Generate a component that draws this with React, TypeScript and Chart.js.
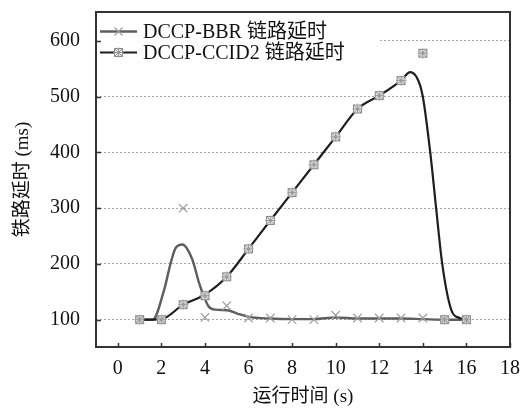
import React, { useEffect, useRef } from "react";
import { Chart, registerables } from "chart.js";

Chart.register(...registerables);

// ---- data ----
const markerTimes = [1, 2, 3, 4, 5, 6, 7, 8, 9, 10, 11, 12, 13, 14, 15, 16];
const bbrDelay = [100, 100, 300, 104, 125, 103, 103, 100, 100, 108, 103, 103, 103, 103, 100, 100];
const ccidDelay = [100, 100, 127, 143, 177, 227, 278, 328, 378, 428, 478, 502, 529, 578, 100, 100];

const bbrCurveTimes = [1, 1.6, 2.13, 2.43, 2.66, 2.97, 3.42, 3.73, 3.95, 4.18, 4.49, 5.02, 5.48, 6.01, 7, 8, 9, 10, 11, 12, 13, 14, 15, 16];
const bbrCurveDelay = [100, 100, 154, 202, 229, 235, 208, 166, 142, 123, 118, 117, 111, 105, 102, 101, 101, 104, 102, 102, 102, 101, 100, 100];

const ccidCurveTimes = [1, 2, 3, 4, 5, 6, 7, 8, 9, 10, 11, 12, 13, 13.42, 13.77, 14.0, 14.34, 14.61, 14.89, 15.3, 15.68, 16];
const ccidCurveDelay = [100, 101, 127, 145, 177, 227, 278, 328, 378, 428, 478, 502, 529, 544, 531, 500, 400, 300, 200, 118, 103, 100];

const xTicks = [0, 2, 4, 6, 8, 10, 12, 14, 16, 18];
const yTicks = [100, 200, 300, 400, 500, 600];
const legendLabels = ["DCCP-BBR 链路延时", "DCCP-CCID2 链路延时"];
const xTitle = "运行时间 (s)";
const yTitle = "铁路延时 (ms)";

const FONT = "'Liberation Serif', 'Noto Sans CJK SC', serif";
const BBR_LINE = "#5e5e5e";
const CCID_LINE = "#1e1e1e";
const BBR_MARK = "#a0a0a0";

function makeCcidMarker(): HTMLCanvasElement {
  const c = document.createElement("canvas");
  c.width = 11;
  c.height = 11;
  const g = c.getContext("2d")!;
  g.fillStyle = "#e4e4e4";
  g.fillRect(1.5, 1.5, 8, 8);
  g.strokeStyle = "#8c8c8c";
  g.lineWidth = 1;
  g.strokeRect(1.5, 1.5, 8, 8);
  g.strokeStyle = "#9a9a9a";
  g.beginPath();
  g.moveTo(1.5, 1.5); g.lineTo(9.5, 9.5);
  g.moveTo(9.5, 1.5); g.lineTo(1.5, 9.5);
  g.moveTo(5.5, 0.5); g.lineTo(5.5, 10.5);
  g.moveTo(0.5, 5.5); g.lineTo(10.5, 5.5);
  g.stroke();
  return c;
}

function drawCross(ctx: CanvasRenderingContext2D, x: number, y: number, r: number) {
  ctx.beginPath();
  ctx.moveTo(x - r, y - r); ctx.lineTo(x + r, y + r);
  ctx.moveTo(x + r, y - r); ctx.lineTo(x - r, y + r);
  ctx.stroke();
}

export default function App() {
  const ref = useRef<HTMLCanvasElement | null>(null);

  useEffect(() => {
    if (!ref.current) return;
    const ccidMarker = makeCcidMarker();

    const framePlugin = {
      id: "frame",
      afterDatasetsDraw(chart: any) {
        const { ctx, chartArea: a, scales } = chart;
        const xs = scales.x;
        const ys = scales.y;
        ctx.save();
        // legend box
        ctx.fillStyle = "#ffffff";
        ctx.fillRect(a.left + 1, a.top + 1, 283, 52);
        const rows = [
          { y: a.top + 19.5, color: BBR_LINE, width: 2.4, kind: "bbr" },
          { y: a.top + 40.5, color: CCID_LINE, width: 2.2, kind: "ccid" },
        ];
        rows.forEach((r, i) => {
          ctx.strokeStyle = r.color;
          ctx.lineWidth = r.width;
          ctx.beginPath();
          ctx.moveTo(a.left + 4, r.y);
          ctx.lineTo(a.left + 41, r.y);
          ctx.stroke();
          if (r.kind === "bbr") {
            ctx.strokeStyle = BBR_MARK;
            ctx.lineWidth = 1.2;
            drawCross(ctx, a.left + 22.5, r.y, 4);
          } else {
            ctx.drawImage(ccidMarker, a.left + 17, r.y - 5.5);
          }
          ctx.fillStyle = "#111";
          ctx.font = `20px ${FONT}`;
          ctx.textBaseline = "middle";
          ctx.textAlign = "left";
          ctx.fillText(legendLabels[i], a.left + 47, r.y + 1);
        });
        // inner tick marks
        ctx.strokeStyle = "#333";
        ctx.lineWidth = 1.5;
        ctx.beginPath();
        yTicks.forEach((v) => {
          const py = Math.round(ys.getPixelForValue(v)) + 0.5;
          ctx.moveTo(a.left, py);
          ctx.lineTo(a.left + 5, py);
        });
        xTicks.forEach((v) => {
          const px = Math.round(xs.getPixelForValue(v)) + 0.5;
          ctx.moveTo(px, a.bottom);
          ctx.lineTo(px, a.bottom - 4);
        });
        ctx.stroke();
        // frame
        ctx.lineWidth = 2;
        ctx.strokeStyle = "#333";
        ctx.strokeRect(a.left, a.top, a.right - a.left, a.bottom - a.top);
        ctx.restore();
      },
    };

    const chart = new Chart(ref.current, {
      type: "scatter",
      data: {
        datasets: [
          {
            label: legendLabels[0] + " markers",
            data: markerTimes.map((t, i) => ({ x: t, y: bbrDelay[i] })),
            showLine: false,
            pointStyle: "crossRot",
            pointRadius: 6,
            borderColor: BBR_MARK,
            backgroundColor: BBR_MARK,
            pointBorderWidth: 1.2,
          },
          {
            label: legendLabels[1] + " markers",
            data: markerTimes.map((t, i) => ({ x: t, y: ccidDelay[i] })),
            showLine: false,
            pointStyle: ccidMarker as any,
            pointRadius: 5,
          },
          {
            label: legendLabels[1],
            data: ccidCurveTimes.map((t, i) => ({ x: t, y: ccidCurveDelay[i] })),
            showLine: true,
            pointRadius: 0,
            borderColor: CCID_LINE,
            borderWidth: 2.2,
            cubicInterpolationMode: "monotone",
          } as any,
          {
            label: legendLabels[0],
            data: bbrCurveTimes.map((t, i) => ({ x: t, y: bbrCurveDelay[i] })),
            showLine: true,
            pointRadius: 0,
            borderColor: BBR_LINE,
            borderWidth: 2.4,
            cubicInterpolationMode: "monotone",
          } as any,
        ],
      },
      options: {
        animation: false,
        responsive: false,
        maintainAspectRatio: false,
        layout: { padding: { top: 12, right: 14, left: 0, bottom: 0 } },
        plugins: { legend: { display: false }, tooltip: { enabled: false } },
        scales: {
          x: {
            type: "linear",
            min: -1,
            max: 18,
            afterBuildTicks: (s: any) => {
              s.ticks = xTicks.map((v) => ({ value: v }));
            },
            afterFit: (s: any) => {
              s.height = 65;
              s.paddingLeft = 0;
              s.paddingRight = 0;
            },
            grid: { display: false, drawTicks: false },
            border: { display: false },
            ticks: {
              color: "#111",
              font: { family: FONT, size: 20 },
              padding: 10,
              maxRotation: 0,
              autoSkip: false,
            },
            title: {
              display: true,
              text: xTitle,
              color: "#111",
              font: { family: FONT, size: 19 },
              padding: { top: 0, bottom: 4 },
            },
          },
          y: {
            type: "linear",
            min: 51,
            max: 652,
            afterBuildTicks: (s: any) => {
              s.ticks = yTicks.map((v) => ({ value: v }));
            },
            afterFit: (s: any) => {
              s.width = 96;
              s.paddingTop = 0;
              s.paddingBottom = 0;
            },
            grid: { color: "#a8a8a8", lineWidth: 1, drawTicks: false },
            border: { display: false, dash: [2, 2] },
            ticks: {
              color: "#111",
              font: { family: FONT, size: 20 },
              padding: 16,
              autoSkip: false,
            },
            title: {
              display: true,
              text: yTitle,
              color: "#111",
              font: { family: FONT, size: 19 },
              padding: { top: 12, bottom: 0 },
            },
          },
        },
      },
      plugins: [framePlugin],
    });

    return () => chart.destroy();
  }, []);

  return (
    <div style={{ position: "absolute", left: 0, top: 0, width: 524, height: 412, background: "#fff" }}>
      <canvas ref={ref} width={524} height={412} style={{ display: "block", width: 524, height: 412 }} />
    </div>
  );
}
